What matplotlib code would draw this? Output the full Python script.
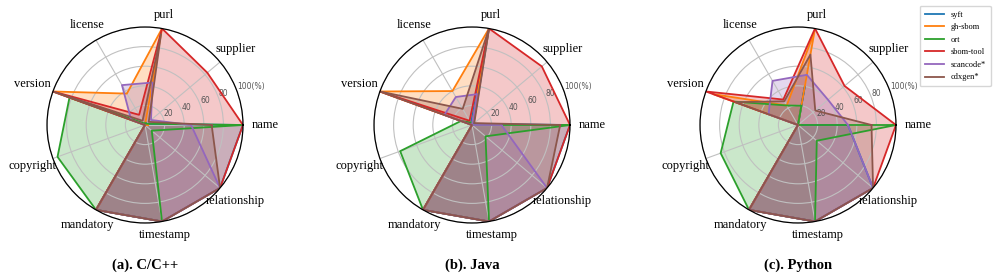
import numpy as np
import matplotlib
matplotlib.use("Agg")
import matplotlib.pyplot as plt

# axis order: counter-clockwise starting at "name"
fields = ["name", "supplier", "purl", "license", "version",
          "copyright", "mandatory", "timestamp", "relationship"]
tools = ["syft", "gh-sbom", "ort", "sbom-tool", "scancode*", "cdxgen*"]
colors = ["#1f77b4", "#ff7f0e", "#2ca02c", "#d62728", "#9467bd", "#8c564b"]

# (a) C/C++
cpp_syft = [100, 2, 3, 0, 2, 0, 100, 100, 100]
cpp_ghsbom = [3, 0, 100, 37, 100, 0, 100, 0, 0]
cpp_ort = [100, 2, 2, 2, 82, 95, 100, 100, 9]
cpp_sbomtool = [100, 83, 100, 12, 100, 0, 100, 100, 100]
cpp_scancode = [47, 8, 44, 47, 15, 0, 100, 100, 100]
cpp_cdxgen = [68, 5, 94, 5, 100, 0, 100, 100, 100]

# (b) Java
java_syft = [100, 2, 100, 2, 3, 0, 100, 100, 100]
java_ghsbom = [2, 0, 100, 40, 100, 0, 100, 0, 0]
java_ort = [100, 0, 2, 3, 12, 78, 100, 100, 18]
java_sbomtool = [100, 93, 100, 5, 100, 0, 100, 100, 100]
java_scancode = [30, 0, 32, 33, 30, 0, 100, 100, 100]
java_cdxgen = [90, 3, 100, 19, 100, 0, 100, 100, 100]

# (c) Python
py_syft = [51, 0, 40, 0, 0, 0, 100, 100, 100]
py_ghsbom = [2, 0, 97, 23, 92, 0, 100, 0, 0]
py_ort = [100, 0, 20, 23, 70, 84, 100, 100, 25]
py_sbomtool = [100, 62, 100, 30, 100, 0, 100, 100, 100]
py_scancode = [51, 40, 52, 52, 32, 0, 100, 100, 100]
py_cdxgen = [75, 23, 73, 28, 68, 0, 100, 100, 100]

panels = [
    ("(a). C/C++", [cpp_syft, cpp_ghsbom, cpp_ort, cpp_sbomtool, cpp_scancode, cpp_cdxgen]),
    ("(b). Java", [java_syft, java_ghsbom, java_ort, java_sbomtool, java_scancode, java_cdxgen]),
    ("(c). Python", [py_syft, py_ghsbom, py_ort, py_sbomtool, py_scancode, py_cdxgen]),
]

rticks = [20, 40, 60, 80, 100]
rlabels = ["20", "40", "60", "80", "100(%)"]

serif = "Liberation Serif"
W, H = 996, 279
centers_x = [145, 472, 798]
center_y = 125
R = 98

fig = plt.figure(figsize=(W / 100, H / 100), dpi=100)

angles = np.arange(len(fields)) * 2 * np.pi / len(fields)
closed = np.concatenate([angles, angles[:1]])

handles = []
for i, (title, series) in enumerate(panels):
    cx = centers_x[i]
    ax = fig.add_axes([(cx - R) / W, (H - center_y - R) / H, 2 * R / W, 2 * R / H],
                      projection="polar")
    for vals, name, c in zip(series, tools, colors):
        v = np.concatenate([vals, vals[:1]])
        ln, = ax.plot(closed, v, color=c, lw=1.3, label=name)
        ax.fill(closed, v, color=c, alpha=0.25, lw=0)
        if i == 0:
            handles.append(ln)
    ax.set_ylim(0, 100)
    ax.set_xticks(angles)
    ax.set_xticklabels([])
    # field names placed by hand, centred just outside the circle
    for a, lab in zip(angles, fields):
        ax.text(a, 112 + 11 * abs(np.cos(a)), lab, ha="center", va="center",
                fontsize=9, family=serif, clip_on=False)
    ax.set_yticks(rticks)
    ax.set_yticklabels(rlabels, fontsize=5.5, color="#555555")
    ax.set_rlabel_position(20)
    ax.grid(color="#c0c0c0", lw=0.8)
    ax.spines["polar"].set_linewidth(0.9)
    fig.text(cx / W, (H - 265) / H, title, ha="center", va="center",
             fontsize=10.5, fontweight="bold", family=serif)

fig.legend(handles=handles, loc="upper right", bbox_to_anchor=(0.999, 0.995),
           prop={"family": serif, "size": 6}, handlelength=2.3,
           labelspacing=0.55, borderpad=0.6, edgecolor="#cccccc")

fig.savefig("out.png", dpi=100)
